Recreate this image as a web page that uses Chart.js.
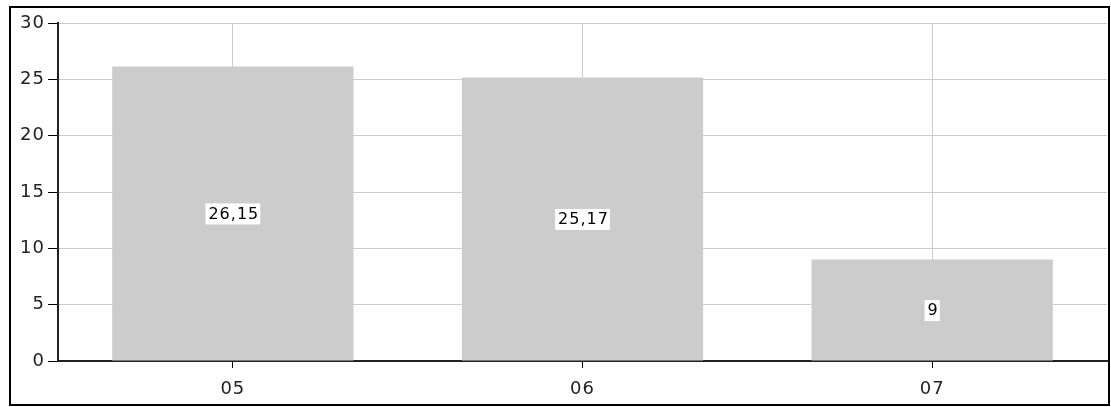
<!DOCTYPE html>
<html>
<head>
<meta charset="utf-8">
<script src="https://cdn.jsdelivr.net/npm/chart.js@4/dist/chart.umd.min.js"></script>
<style>
  html, body { margin: 0; padding: 0; background: #fff; }
  #wrap { width: 1111px; height: 407px; }
</style>
</head>
<body>
<div id="wrap"><canvas id="barChart" width="1111" height="407"></canvas></div>
<script>
var categories = ["05", "06", "07"];
var values = [26.15, 25.17, 9];
var yTicks = [0, 5, 10, 15, 20, 25, 30];

var FONT = "DejaVu Sans";

// wider letters, like the pixel font of the original
var spacing = {
    id: "spacing",
    beforeDraw: function(chart) { chart.ctx.letterSpacing = "1px"; }
};

// frame round the whole picture + value labels in white boxes
var extras = {
    id: "extras",
    afterDraw: function(chart) {
        var ctx = chart.ctx;
        ctx.save();
        ctx.strokeStyle = "#000";
        ctx.lineWidth = 2;
        ctx.strokeRect(10, 7, 1099, 398);

        ctx.font = "16px '" + FONT + "'";
        ctx.letterSpacing = "1px";
        ctx.textAlign = "center";
        ctx.textBaseline = "middle";
        var meta = chart.getDatasetMeta(0);
        meta.data.forEach(function(bar, i) {
            var txt = String(values[i]).replace(".", ",");
            var y = (bar.y + bar.base) / 2;
            var w = ctx.measureText(txt).width + 4;
            ctx.fillStyle = "#fff";
            ctx.fillRect(bar.x - w / 2, y - 10, w, 21);
            ctx.fillStyle = "#000";
            ctx.fillText(txt, bar.x + 1, y + 1);
        });
        ctx.restore();
    }
};

new Chart("barChart", {
    type: "bar",
    data: {
        labels: categories,
        datasets: [{
            data: values,
            backgroundColor: "#cccccc",
            borderWidth: 0,
            barPercentage: 0.69,
            categoryPercentage: 1
        }]
    },
    plugins: [spacing, extras],
    options: {
        responsive: false,
        animation: false,
        events: [],
        layout: { padding: { left: 10, top: 23, right: 4, bottom: 10 } },
        plugins: { legend: { display: false }, tooltip: { enabled: false } },
        scales: {
            x: {
                afterFit: function(s) { s.height = 36; },
                grid: { color: "#cccccc", tickColor: "#000", tickLength: 7, offset: false },
                border: { color: "#222", width: 2 },
                ticks: { color: "#222", padding: 11, font: { family: FONT, size: 18 } }
            },
            y: {
                min: 0,
                max: 30,
                afterFit: function(s) { s.width = 48; },
                afterBuildTicks: function(s) { s.ticks = yTicks.map(function(v) { return { value: v }; }); },
                grid: { color: "#cccccc", tickColor: "#000", tickLength: 10 },
                border: { color: "#222", width: 2 },
                ticks: { color: "#222", padding: 3, font: { family: FONT, size: 18 } }
            }
        }
    }
});
</script>
</body>
</html>
